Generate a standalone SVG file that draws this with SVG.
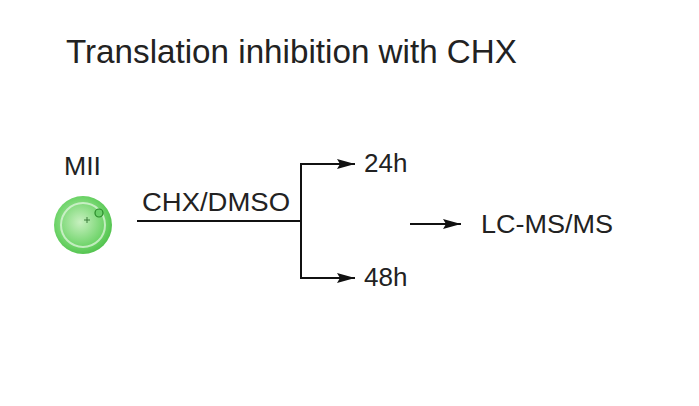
<svg xmlns="http://www.w3.org/2000/svg" width="699" height="406" viewBox="0 0 699 406">
<defs>
<style>text{font-family:"Liberation Sans",Arial,sans-serif;fill:#222}.l{stroke:#111;stroke-width:2;fill:none}</style>
<marker id="a" markerWidth="18" markerHeight="10" refX="18" refY="5" orient="auto" markerUnits="userSpaceOnUse"><path d="M0,0L18,5L0,10L3,5z" fill="#111"/></marker>
<radialGradient id="g" cx="0.45" cy="0.45" r="0.6"><stop offset="0" stop-color="#c8f0c0"/><stop offset="0.7" stop-color="#6fd46a"/><stop offset="1" stop-color="#4cbf48"/></radialGradient>
</defs>
<rect width="699" height="406" fill="#fff"/>
<text x="66" y="63" font-size="33" textLength="451" lengthAdjust="spacingAndGlyphs">Translation inhibition with CHX</text>
<g id="cell">
<text x="64" y="175" font-size="25" textLength="37" lengthAdjust="spacingAndGlyphs">MII</text>
<circle cx="83" cy="225" r="29" fill="url(#g)"/>
<circle cx="83" cy="225" r="22" fill="none" stroke="#e6f8e2" stroke-width="2" opacity="0.7"/>
<circle cx="99" cy="213" r="4" fill="#6cd06a" stroke="#2a8a2a" stroke-width="1.2"/>
<path d="M87,217v6M84,220h6" stroke="#3a7a3a" stroke-width="1"/>
</g>
<g id="connectors">
<path class="l" d="M137,221H301M301,163V279"/>
<path class="l" d="M300,164H355" marker-end="url(#a)"/>
<path class="l" d="M300,278H355" marker-end="url(#a)"/>
<path class="l" d="M410,224H461" marker-end="url(#a)"/>
</g>
<g id="labels">
<text x="142" y="211" font-size="26" textLength="148" lengthAdjust="spacingAndGlyphs">CHX/DMSO</text>
<text x="364" y="172" font-size="26">24h</text>
<text x="364" y="286" font-size="26">48h</text>
<text x="481" y="233" font-size="26" textLength="132" lengthAdjust="spacingAndGlyphs">LC-MS/MS</text>
</g>
</svg>
